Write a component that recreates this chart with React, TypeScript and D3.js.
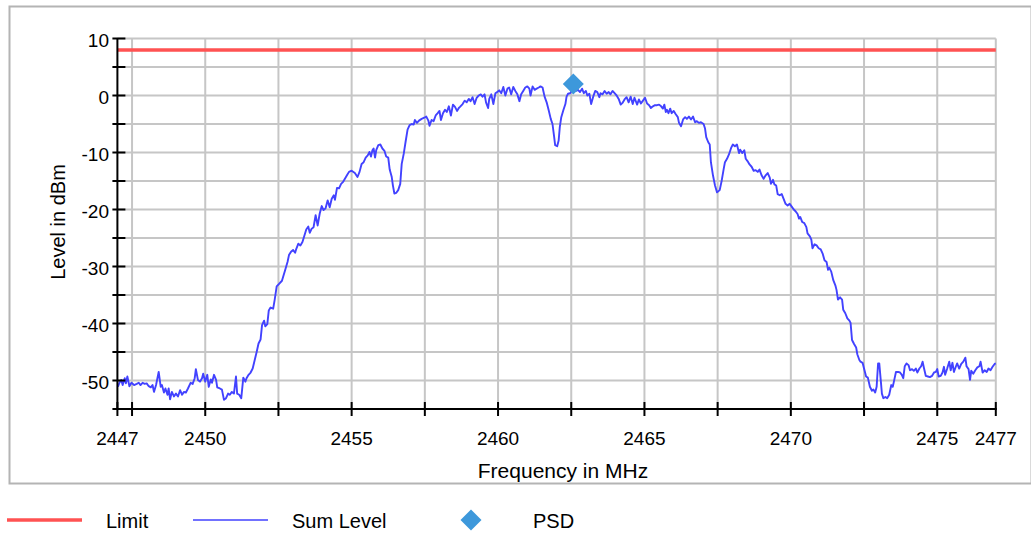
import * as d3 from 'd3';

// Sum Level trace, [frequency MHz, level dBm]
const sumLevelTrace: [number, number][] = [
  [2447.02, -51.1], [2447.07, -50.4], [2447.13, -49.9], [2447.18, -50.8], [2447.25, -49.6],
  [2447.29, -50.5], [2447.34, -49.3], [2447.41, -51.0], [2447.48, -50.4], [2447.57, -50.8],
  [2447.66, -50.6], [2447.73, -50.4], [2447.79, -50.8], [2447.86, -50.4], [2447.93, -50.6],
  [2448.0, -50.5], [2448.07, -51.0], [2448.14, -51.2], [2448.2, -50.8], [2448.25, -52.0],
  [2448.32, -50.8], [2448.41, -48.5], [2448.48, -51.1], [2448.52, -50.8], [2448.59, -52.1],
  [2448.64, -51.4], [2448.71, -52.5], [2448.75, -51.4], [2448.8, -53.3], [2448.86, -52.0],
  [2448.93, -52.8], [2449.0, -52.3], [2449.07, -52.8], [2449.14, -51.7], [2449.21, -52.5],
  [2449.27, -52.0], [2449.34, -52.1], [2449.41, -51.4], [2449.5, -50.4], [2449.57, -50.6],
  [2449.64, -49.6], [2449.68, -48.0], [2449.75, -49.9], [2449.82, -50.2], [2449.89, -49.6],
  [2449.93, -48.8], [2450.0, -50.2], [2450.07, -49.0], [2450.12, -51.1], [2450.19, -49.8],
  [2450.23, -50.4], [2450.3, -49.0], [2450.37, -49.9], [2450.41, -51.2], [2450.5, -51.4],
  [2450.57, -51.6], [2450.64, -53.4], [2450.71, -53.1], [2450.78, -52.3], [2450.84, -52.5],
  [2450.91, -52.0], [2450.98, -52.3], [2451.05, -49.3], [2451.09, -52.3], [2451.16, -52.5],
  [2451.23, -53.1], [2451.3, -49.5], [2451.37, -50.2], [2451.41, -49.6], [2451.48, -49.0],
  [2451.55, -48.6], [2451.62, -47.9], [2451.69, -46.4], [2451.76, -44.9], [2451.82, -43.5],
  [2451.89, -42.8], [2451.94, -40.3], [2452.01, -39.5], [2452.05, -40.5], [2452.12, -40.1],
  [2452.17, -37.7], [2452.23, -37.2], [2452.32, -37.4], [2452.37, -35.9], [2452.44, -33.5],
  [2452.53, -33.0], [2452.62, -32.5], [2452.72, -30.8], [2452.81, -29.2], [2452.86, -28.0],
  [2452.93, -27.4], [2453.0, -27.1], [2453.07, -27.6], [2453.11, -26.9], [2453.18, -26.0],
  [2453.25, -26.3], [2453.32, -25.7], [2453.38, -24.7], [2453.45, -23.5], [2453.52, -23.0],
  [2453.57, -24.1], [2453.63, -23.4], [2453.7, -23.1], [2453.77, -21.0], [2453.84, -22.8],
  [2453.91, -20.7], [2453.98, -19.4], [2454.04, -20.1], [2454.11, -19.8], [2454.18, -18.4],
  [2454.25, -19.6], [2454.32, -18.1], [2454.39, -17.5], [2454.43, -18.3], [2454.5, -16.2],
  [2454.57, -16.3], [2454.64, -15.5], [2454.7, -15.2], [2454.77, -14.6], [2454.84, -14.0],
  [2454.91, -13.4], [2455.0, -13.2], [2455.11, -13.6], [2455.2, -14.3], [2455.27, -13.4],
  [2455.34, -12.0], [2455.41, -11.7], [2455.48, -10.9], [2455.55, -10.5], [2455.61, -9.9],
  [2455.66, -10.7], [2455.71, -9.6], [2455.75, -9.3], [2455.8, -10.9], [2455.84, -9.6],
  [2455.91, -8.7], [2455.98, -8.6], [2456.05, -9.3], [2456.12, -9.7], [2456.18, -10.7],
  [2456.25, -10.9], [2456.3, -13.0], [2456.37, -14.3], [2456.41, -15.8], [2456.46, -17.2],
  [2456.52, -17.1], [2456.59, -16.6], [2456.66, -15.5], [2456.71, -12.0], [2456.78, -10.2],
  [2456.84, -8.2], [2456.91, -6.0], [2456.98, -5.2], [2457.05, -5.0], [2457.12, -5.1],
  [2457.16, -4.3], [2457.23, -4.8], [2457.3, -4.4], [2457.39, -4.1], [2457.48, -3.9],
  [2457.55, -3.7], [2457.62, -4.4], [2457.66, -5.3], [2457.73, -4.3], [2457.8, -4.5],
  [2457.87, -3.5], [2457.94, -3.1], [2458.0, -2.7], [2458.05, -4.3], [2458.12, -3.1],
  [2458.19, -2.5], [2458.25, -2.9], [2458.32, -1.9], [2458.39, -3.5], [2458.46, -1.6],
  [2458.53, -2.0], [2458.6, -2.7], [2458.66, -2.2], [2458.7, -2.0], [2458.79, -1.5],
  [2458.86, -0.9], [2458.93, -1.2], [2459.0, -0.6], [2459.06, -1.0], [2459.13, -0.3],
  [2459.2, -1.5], [2459.27, -0.4], [2459.34, 0.0], [2459.41, 0.2], [2459.47, -0.2],
  [2459.54, 0.2], [2459.59, -1.2], [2459.66, -2.2], [2459.7, -0.6], [2459.77, 0.2],
  [2459.84, -1.5], [2459.91, 0.4], [2459.97, 0.6], [2460.04, 0.9], [2460.11, 0.4],
  [2460.18, 1.5], [2460.25, 0.0], [2460.32, 1.2], [2460.38, 1.4], [2460.45, 0.2],
  [2460.52, 1.5], [2460.59, 0.8], [2460.66, 0.2], [2460.73, -1.0], [2460.79, 0.2],
  [2460.86, 0.8], [2460.93, 1.4], [2461.0, 1.6], [2461.07, 1.2], [2461.11, 0.0],
  [2461.18, 1.6], [2461.25, 1.0], [2461.32, 1.2], [2461.39, 1.4], [2461.45, 1.6],
  [2461.52, 1.4], [2461.59, -0.2], [2461.66, -1.2], [2461.73, -2.6], [2461.8, -4.1],
  [2461.86, -5.0], [2461.91, -7.0], [2461.95, -8.7], [2462.02, -8.9], [2462.07, -7.9],
  [2462.11, -5.5], [2462.16, -3.8], [2462.23, -2.6], [2462.3, -1.5], [2462.34, -0.2],
  [2462.39, 0.3], [2462.46, 0.4], [2462.52, 0.8], [2462.59, 0.9], [2462.66, 0.8],
  [2462.73, 1.0], [2462.8, 0.6], [2462.87, 1.2], [2462.93, 0.4], [2463.0, 0.8],
  [2463.05, 0.0], [2463.12, 0.3], [2463.18, -1.5], [2463.25, -0.2], [2463.32, 0.8],
  [2463.39, 0.6], [2463.46, -0.3], [2463.5, 0.4], [2463.57, 0.2], [2463.64, 0.8],
  [2463.71, 0.3], [2463.78, 0.6], [2463.84, 0.2], [2463.91, 0.8], [2463.98, 0.4],
  [2464.05, 0.0], [2464.12, -0.6], [2464.19, -1.6], [2464.25, -1.3], [2464.32, -0.7],
  [2464.39, -0.3], [2464.46, -1.2], [2464.53, -0.2], [2464.6, -1.5], [2464.66, -0.4],
  [2464.75, -1.6], [2464.81, -0.7], [2464.88, -1.4], [2464.95, -0.9], [2465.02, -0.4],
  [2465.09, -1.4], [2465.16, -1.7], [2465.22, -2.2], [2465.29, -1.9], [2465.36, -1.7],
  [2465.43, -1.7], [2465.5, -1.6], [2465.57, -1.9], [2465.63, -2.3], [2465.68, -1.6],
  [2465.73, -2.9], [2465.77, -2.5], [2465.82, -3.1], [2465.88, -2.3], [2465.93, -3.1],
  [2466.0, -2.7], [2466.07, -3.3], [2466.14, -3.8], [2466.18, -4.8], [2466.25, -5.4],
  [2466.32, -4.2], [2466.39, -3.8], [2466.45, -4.1], [2466.52, -3.7], [2466.59, -4.2],
  [2466.66, -3.7], [2466.73, -4.7], [2466.79, -4.5], [2466.86, -4.8], [2466.93, -4.7],
  [2467.02, -5.0], [2467.07, -5.8], [2467.11, -7.3], [2467.18, -8.2], [2467.23, -8.6],
  [2467.27, -11.7], [2467.34, -14.0], [2467.41, -15.8], [2467.48, -17.0], [2467.57, -16.6],
  [2467.64, -14.9], [2467.71, -12.8], [2467.75, -11.7], [2467.82, -11.1], [2467.89, -10.3],
  [2467.96, -9.2], [2468.02, -8.6], [2468.09, -8.9], [2468.16, -8.6], [2468.23, -10.1],
  [2468.27, -9.5], [2468.34, -10.1], [2468.41, -9.6], [2468.46, -11.1], [2468.52, -11.5],
  [2468.59, -12.1], [2468.66, -12.5], [2468.73, -13.2], [2468.8, -13.1], [2468.87, -13.4],
  [2468.93, -13.0], [2469.0, -14.0], [2469.07, -14.6], [2469.14, -14.0], [2469.21, -13.6],
  [2469.28, -14.4], [2469.32, -15.5], [2469.39, -14.8], [2469.44, -15.6], [2469.5, -15.8],
  [2469.55, -17.3], [2469.62, -17.5], [2469.69, -17.3], [2469.75, -18.1], [2469.82, -19.0],
  [2469.89, -19.3], [2469.96, -19.0], [2470.03, -19.5], [2470.1, -20.0], [2470.16, -20.3],
  [2470.23, -20.8], [2470.28, -21.6], [2470.32, -21.3], [2470.39, -22.2], [2470.46, -22.4],
  [2470.53, -23.1], [2470.57, -24.2], [2470.65, -24.7], [2470.7, -25.3], [2470.74, -26.8],
  [2470.81, -26.1], [2470.88, -26.3], [2470.95, -26.8], [2471.02, -27.0], [2471.09, -27.8],
  [2471.15, -28.9], [2471.22, -29.2], [2471.27, -30.6], [2471.31, -30.2], [2471.38, -30.9],
  [2471.45, -32.4], [2471.52, -33.3], [2471.56, -34.1], [2471.61, -35.8], [2471.68, -35.4],
  [2471.75, -35.8], [2471.79, -37.6], [2471.86, -38.2], [2471.93, -39.1], [2472.0, -39.5],
  [2472.04, -39.9], [2472.09, -42.9], [2472.16, -43.6], [2472.23, -44.2], [2472.27, -45.4],
  [2472.34, -46.4], [2472.38, -46.7], [2472.45, -46.9], [2472.5, -47.9], [2472.57, -49.3],
  [2472.63, -49.5], [2472.7, -51.1], [2472.77, -51.8], [2472.82, -51.6], [2472.88, -52.1],
  [2472.93, -51.1], [2472.98, -47.0], [2473.02, -47.0], [2473.07, -49.9], [2473.11, -52.3],
  [2473.16, -53.1], [2473.23, -52.9], [2473.29, -53.1], [2473.36, -52.5], [2473.43, -50.8],
  [2473.48, -51.1], [2473.52, -50.2], [2473.59, -48.5], [2473.66, -48.5], [2473.73, -48.6],
  [2473.79, -49.0], [2473.84, -49.6], [2473.89, -47.5], [2473.95, -47.0], [2474.02, -47.3],
  [2474.07, -48.2], [2474.14, -48.0], [2474.2, -48.3], [2474.27, -47.9], [2474.32, -48.6],
  [2474.39, -47.9], [2474.45, -47.5], [2474.5, -46.7], [2474.55, -47.9], [2474.61, -49.2],
  [2474.68, -49.3], [2474.75, -49.4], [2474.82, -49.2], [2474.89, -48.6], [2474.95, -48.5],
  [2475.0, -48.0], [2475.05, -49.3], [2475.12, -49.2], [2475.18, -48.6], [2475.23, -47.6],
  [2475.27, -49.0], [2475.34, -47.9], [2475.41, -46.7], [2475.46, -48.2], [2475.52, -46.9],
  [2475.57, -48.5], [2475.64, -47.5], [2475.68, -47.0], [2475.75, -47.9], [2475.82, -47.1],
  [2475.89, -46.7], [2475.96, -46.0], [2476.0, -47.5], [2476.07, -48.0], [2476.12, -49.9],
  [2476.16, -48.3], [2476.23, -48.8], [2476.3, -48.2], [2476.37, -47.7], [2476.44, -47.5],
  [2476.48, -46.7], [2476.55, -48.6], [2476.62, -48.2], [2476.69, -48.5], [2476.75, -47.9],
  [2476.82, -48.2], [2476.89, -47.6], [2476.96, -47.1], [2477.0, -47.0],
];

const limitDbm = 8;
const psdPoint: [number, number] = [2462.57, 2.0];

const xTickLabels = [2447, 2450, 2455, 2460, 2465, 2470, 2475, 2477];
const xTickMarks = [2447, 2447.5, 2450, 2452.5, 2455, 2457.5, 2460, 2462.5, 2465, 2467.5, 2470, 2472.5, 2475, 2477];
const yTickLabels = [10, 0, -10, -20, -30, -40, -50];
const yTickMarks = [10, 5, 0, -5, -10, -15, -20, -25, -30, -35, -40, -45, -50, -55];

const legendItems = ['Limit', 'Sum Level', 'PSD'];

const FONT = "'Liberation Sans', Arial, Helvetica, sans-serif";
const LIMIT_COLOR = '#ff5252';
const TRACE_COLOR = '#4242ff';
const PSD_COLOR = '#3d98db';
const GRID = '#c6c6c6';

function Diamond({ cx, cy, r }: { cx: number; cy: number; r: number }) {
  return (
    <path
      d={`M${cx},${cy - r}L${cx + r},${cy}L${cx},${cy + r}L${cx - r},${cy}Z`}
      fill={PSD_COLOR}
    />
  );
}

export default function App() {
  const width = 1031;
  const height = 535;
  const left = 117.4;
  const right = 995.8;
  const top = 38.5;
  const bottom = 409;

  const x = d3.scaleLinear().domain([2447, 2477]).range([left, right]);
  const y = d3.scaleLinear().domain([-55, 10]).range([bottom, top]);

  const line = d3
    .line<[number, number]>()
    .x((d) => x(d[0]))
    .y((d) => y(d[1]));

  const gridY = yTickMarks.filter((v) => v > -55);
  const gridX = xTickMarks.filter((v) => v > 2447);

  return (
    <svg
      width={width}
      height={height}
      viewBox={`0 0 ${width} ${height}`}
      style={{ position: 'absolute', left: 0, top: 0, background: '#fff' }}
      fontFamily={FONT}
    >
      {/* outer frame */}
      <rect x={9.5} y={6.5} width={1022} height={477} fill="#fff" stroke="#b4b4b4" strokeWidth={2} />

      {/* grid */}
      {gridY.map((v) => (
        <line key={`gy${v}`} x1={left} x2={right} y1={y(v)} y2={y(v)} stroke={GRID} strokeWidth={2} />
      ))}
      {gridX.map((v) => (
        <line key={`gx${v}`} x1={x(v)} x2={x(v)} y1={top} y2={bottom} stroke={GRID} strokeWidth={2} />
      ))}

      {/* limit */}
      <line x1={left} x2={right} y1={y(limitDbm)} y2={y(limitDbm)} stroke={LIMIT_COLOR} strokeWidth={3.5} />

      {/* sum level trace */}
      <path d={line(sumLevelTrace) ?? ''} fill="none" stroke={TRACE_COLOR} strokeWidth={1.9} strokeLinejoin="round" />

      {/* PSD marker */}
      <Diamond cx={x(psdPoint[0])} cy={y(psdPoint[1])} r={10.5} />

      {/* axes */}
      <line x1={left} x2={left} y1={top} y2={bottom + 1} stroke="#000" strokeWidth={2} />
      <line x1={left - 1} x2={right + 1} y1={bottom} y2={bottom} stroke="#000" strokeWidth={2} />
      {yTickMarks.map((v) => (
        <line key={`yt${v}`} x1={left - 5} x2={left + 8} y1={y(v)} y2={y(v)} stroke="#000" strokeWidth={2} />
      ))}
      {xTickMarks.map((v) => (
        <line key={`xt${v}`} x1={x(v)} x2={x(v)} y1={bottom - 7} y2={bottom + 7} stroke="#000" strokeWidth={2} />
      ))}
      {yTickLabels.map((v) => (
        <text key={`yl${v}`} x={109} y={y(v) + 8.5} textAnchor="end" fontSize={19} fill="#000">
          {v}
        </text>
      ))}
      {xTickLabels.map((v) => (
        <text key={`xl${v}`} x={x(v)} y={445} textAnchor="middle" fontSize={19} fill="#000">
          {v}
        </text>
      ))}

      {/* axis titles */}
      <text x={563} y={478} textAnchor="middle" fontSize={21} fill="#000">
        Frequency in MHz
      </text>
      <text transform="translate(65,222) rotate(-90)" textAnchor="middle" fontSize={20} fill="#000">
        Level in dBm
      </text>

      {/* legend */}
      <line x1={7} x2={82} y1={520} y2={520} stroke={LIMIT_COLOR} strokeWidth={3.5} />
      <text x={106} y={528} fontSize={20} fill="#000">{legendItems[0]}</text>
      <line x1={193} x2={268} y1={520} y2={520} stroke={TRACE_COLOR} strokeWidth={1.5} />
      <text x={292} y={528} fontSize={20} fill="#000">{legendItems[1]}</text>
      <Diamond cx={471} cy={520} r={10.5} />
      <text x={533} y={528} fontSize={20} fill="#000">{legendItems[2]}</text>
    </svg>
  );
}
